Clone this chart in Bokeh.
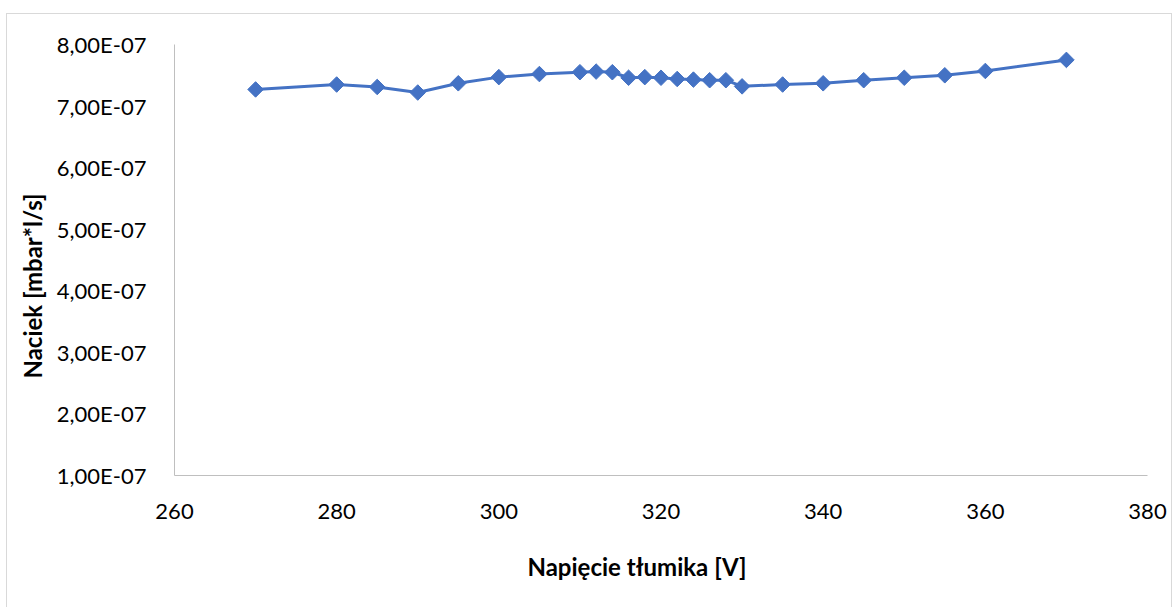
from bokeh.plotting import figure
from bokeh.models import FixedTicker, CustomJSTickFormatter, Range1d, Title
from bokeh.embed import file_html
from bokeh.resources import INLINE
import math

# Damper voltage [V] and measured leak rate [mbar*l/s]
napiecie = [270, 280, 285, 290, 295, 300, 305, 310, 312, 314, 316, 318, 320,
            322, 324, 326, 328, 330, 335, 340, 345, 350, 355, 360, 370]
naciek = [7.27e-7, 7.35e-7, 7.31e-7, 7.22e-7, 7.37e-7, 7.47e-7, 7.52e-7,
          7.55e-7, 7.56e-7, 7.55e-7, 7.46e-7, 7.47e-7, 7.46e-7, 7.44e-7,
          7.43e-7, 7.42e-7, 7.42e-7, 7.32e-7, 7.35e-7, 7.37e-7, 7.42e-7,
          7.46e-7, 7.50e-7, 7.57e-7, 7.75e-7]

x_ticks = [260, 280, 300, 320, 340, 360, 380]
y_ticks = [1e-7, 2e-7, 3e-7, 4e-7, 5e-7, 6e-7, 7e-7, 8e-7]

FONT = "Lato"
BLUE = "#4472C4"

p = figure(
    frame_width=973, frame_height=431,
    min_border_left=167, min_border_right=24,
    min_border_top=30, min_border_bottom=131,
    x_range=Range1d(260, 380), y_range=Range1d(1e-7, 8e-7),
    output_backend="svg", toolbar_location=None,
    margin=(13, 0, 0, 6),
    styles={"border": "1px solid #d9d9d9"},
)

p.line(napiecie, naciek, line_color=BLUE, line_width=3)
p.scatter(napiecie, naciek, marker="square", size=11, angle=math.pi / 4,
          fill_color=BLUE, line_color=BLUE)

p.grid.visible = False
p.outline_line_color = None

for ax in (p.xaxis[0], p.yaxis[0]):
    ax.axis_line_color = "#bfbfbf"
    ax.axis_line_width = 1
    ax.major_tick_line_color = None
    ax.minor_tick_line_color = None
    ax.major_label_text_font = FONT
    ax.major_label_text_font_size = "22px"
    ax.major_label_text_color = "#000000"

p.xaxis.ticker = FixedTicker(ticks=x_ticks)
p.yaxis.ticker = FixedTicker(ticks=y_ticks)
p.yaxis.formatter = CustomJSTickFormatter(code="""
    const s = tick.toExponential(2).replace('.', ',');
    return s.replace(/e([+-])(\\d+)$/, (m, sg, d) => 'E' + sg + d.padStart(2, '0'));
""")
p.xaxis.major_label_standoff = 22
p.yaxis.major_label_standoff = 22

# Axis titles as side panels, shifted along the axis with offsets
title_style = dict(text_font=FONT, text_font_size="24px", text_font_style="bold",
                   text_color="#000000", align="left")
p.add_layout(Title(text="Napięcie tłumika [V]", offset=353, standoff=57,
                   **title_style), "below")
p.add_layout(Title(text="Naciek  [mbar*l/s]", offset=97, standoff=14,
                   **title_style), "left")

open("out.html", "w").write(file_html(p, INLINE))
